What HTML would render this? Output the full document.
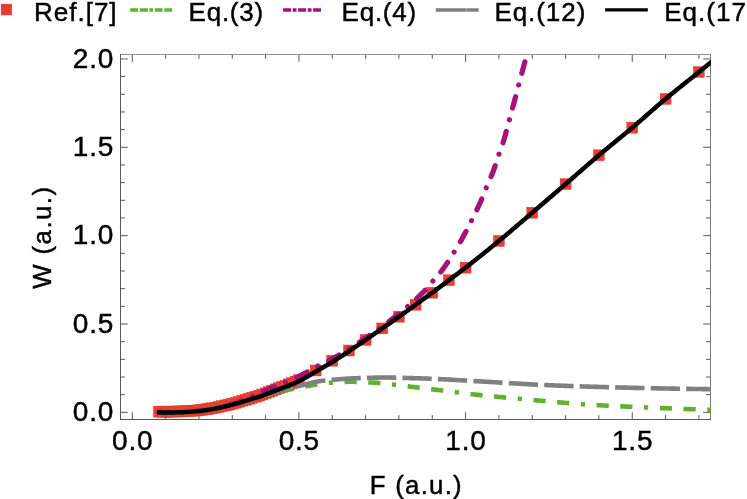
<!DOCTYPE html>
<html><head><meta charset="utf-8"><title>plot</title>
<style>
html,body{margin:0;padding:0;background:#fff;}
body{width:747px;height:499px;overflow:hidden;}
svg{display:block;will-change:transform;}
text{font-family:"Liberation Sans",sans-serif;fill:#000;stroke:#000;stroke-width:0.45px;}
</style></head><body>
<svg width="747" height="499" viewBox="0 0 747 499">
<rect width="747" height="499" fill="#fff"/>
<defs><clipPath id="cp"><rect x="120.0" y="54.0" width="591.0" height="366.0"/></clipPath></defs>
<g clip-path="url(#cp)" fill="#ea3e33" stroke="#e5352a" stroke-width="0.4"><rect x="153.46" y="406.14" width="11.0" height="11.0"/><rect x="156.80" y="406.16" width="11.0" height="11.0"/><rect x="160.13" y="406.15" width="11.0" height="11.0"/><rect x="163.46" y="406.13" width="11.0" height="11.0"/><rect x="166.80" y="406.09" width="11.0" height="11.0"/><rect x="170.13" y="406.03" width="11.0" height="11.0"/><rect x="173.46" y="405.95" width="11.0" height="11.0"/><rect x="176.80" y="405.85" width="11.0" height="11.0"/><rect x="180.13" y="405.71" width="11.0" height="11.0"/><rect x="183.46" y="405.52" width="11.0" height="11.0"/><rect x="186.79" y="405.29" width="11.0" height="11.0"/><rect x="190.13" y="405.03" width="11.0" height="11.0"/><rect x="193.46" y="404.73" width="11.0" height="11.0"/><rect x="196.79" y="404.32" width="11.0" height="11.0"/><rect x="200.13" y="403.83" width="11.0" height="11.0"/><rect x="203.46" y="403.29" width="11.0" height="11.0"/><rect x="206.79" y="402.70" width="11.0" height="11.0"/><rect x="210.12" y="402.08" width="11.0" height="11.0"/><rect x="213.46" y="401.41" width="11.0" height="11.0"/><rect x="216.79" y="400.67" width="11.0" height="11.0"/><rect x="220.12" y="399.88" width="11.0" height="11.0"/><rect x="223.46" y="399.05" width="11.0" height="11.0"/><rect x="226.79" y="398.19" width="11.0" height="11.0"/><rect x="230.12" y="397.28" width="11.0" height="11.0"/><rect x="233.46" y="396.31" width="11.0" height="11.0"/><rect x="236.79" y="395.30" width="11.0" height="11.0"/><rect x="240.12" y="394.27" width="11.0" height="11.0"/><rect x="243.46" y="393.24" width="11.0" height="11.0"/><rect x="246.79" y="392.24" width="11.0" height="11.0"/><rect x="250.12" y="391.23" width="11.0" height="11.0"/><rect x="253.45" y="390.18" width="11.0" height="11.0"/><rect x="256.79" y="389.06" width="11.0" height="11.0"/><rect x="260.12" y="387.84" width="11.0" height="11.0"/><rect x="263.45" y="386.53" width="11.0" height="11.0"/><rect x="266.79" y="385.20" width="11.0" height="11.0"/><rect x="270.12" y="383.88" width="11.0" height="11.0"/><rect x="273.45" y="382.61" width="11.0" height="11.0"/><rect x="276.79" y="381.36" width="11.0" height="11.0"/><rect x="280.12" y="380.11" width="11.0" height="11.0"/><rect x="283.45" y="378.83" width="11.0" height="11.0"/><rect x="286.78" y="377.48" width="11.0" height="11.0"/><rect x="290.12" y="376.05" width="11.0" height="11.0"/><rect x="293.45" y="374.52" width="11.0" height="11.0"/><rect x="310.12" y="364.97" width="11.0" height="11.0"/><rect x="326.78" y="355.25" width="11.0" height="11.0"/><rect x="343.45" y="345.01" width="11.0" height="11.0"/><rect x="360.11" y="334.40" width="11.0" height="11.0"/><rect x="376.78" y="322.92" width="11.0" height="11.0"/><rect x="393.44" y="311.26" width="11.0" height="11.0"/><rect x="410.11" y="299.24" width="11.0" height="11.0"/><rect x="426.77" y="287.22" width="11.0" height="11.0"/><rect x="443.44" y="274.68" width="11.0" height="11.0"/><rect x="460.10" y="262.13" width="11.0" height="11.0"/><rect x="493.43" y="235.45" width="11.0" height="11.0"/><rect x="526.76" y="207.18" width="11.0" height="11.0"/><rect x="560.09" y="178.55" width="11.0" height="11.0"/><rect x="593.42" y="149.75" width="11.0" height="11.0"/><rect x="626.75" y="122.19" width="11.0" height="11.0"/><rect x="660.08" y="93.38" width="11.0" height="11.0"/><rect x="693.41" y="66.53" width="11.0" height="11.0"/></g>
<g stroke="#585858" stroke-width="1" fill="none">
<line x1="132.30" y1="419.5" x2="132.30" y2="412.2"/><line x1="132.30" y1="54.5" x2="132.30" y2="61.8"/><line x1="165.63" y1="419.5" x2="165.63" y2="415.1"/><line x1="165.63" y1="54.5" x2="165.63" y2="58.9"/><line x1="198.96" y1="419.5" x2="198.96" y2="415.1"/><line x1="198.96" y1="54.5" x2="198.96" y2="58.9"/><line x1="232.29" y1="419.5" x2="232.29" y2="415.1"/><line x1="232.29" y1="54.5" x2="232.29" y2="58.9"/><line x1="265.62" y1="419.5" x2="265.62" y2="415.1"/><line x1="265.62" y1="54.5" x2="265.62" y2="58.9"/><line x1="298.95" y1="419.5" x2="298.95" y2="412.2"/><line x1="298.95" y1="54.5" x2="298.95" y2="61.8"/><line x1="332.28" y1="419.5" x2="332.28" y2="415.1"/><line x1="332.28" y1="54.5" x2="332.28" y2="58.9"/><line x1="365.61" y1="419.5" x2="365.61" y2="415.1"/><line x1="365.61" y1="54.5" x2="365.61" y2="58.9"/><line x1="398.94" y1="419.5" x2="398.94" y2="415.1"/><line x1="398.94" y1="54.5" x2="398.94" y2="58.9"/><line x1="432.27" y1="419.5" x2="432.27" y2="415.1"/><line x1="432.27" y1="54.5" x2="432.27" y2="58.9"/><line x1="465.60" y1="419.5" x2="465.60" y2="412.2"/><line x1="465.60" y1="54.5" x2="465.60" y2="61.8"/><line x1="498.93" y1="419.5" x2="498.93" y2="415.1"/><line x1="498.93" y1="54.5" x2="498.93" y2="58.9"/><line x1="532.26" y1="419.5" x2="532.26" y2="415.1"/><line x1="532.26" y1="54.5" x2="532.26" y2="58.9"/><line x1="565.59" y1="419.5" x2="565.59" y2="415.1"/><line x1="565.59" y1="54.5" x2="565.59" y2="58.9"/><line x1="598.92" y1="419.5" x2="598.92" y2="415.1"/><line x1="598.92" y1="54.5" x2="598.92" y2="58.9"/><line x1="632.25" y1="419.5" x2="632.25" y2="412.2"/><line x1="632.25" y1="54.5" x2="632.25" y2="61.8"/><line x1="665.58" y1="419.5" x2="665.58" y2="415.1"/><line x1="665.58" y1="54.5" x2="665.58" y2="58.9"/><line x1="698.91" y1="419.5" x2="698.91" y2="415.1"/><line x1="698.91" y1="54.5" x2="698.91" y2="58.9"/><line x1="120.5" y1="412.35" x2="127.8" y2="412.35"/><line x1="710.5" y1="412.35" x2="703.2" y2="412.35"/><line x1="120.5" y1="394.68" x2="124.9" y2="394.68"/><line x1="710.5" y1="394.68" x2="706.1" y2="394.68"/><line x1="120.5" y1="377.01" x2="124.9" y2="377.01"/><line x1="710.5" y1="377.01" x2="706.1" y2="377.01"/><line x1="120.5" y1="359.34" x2="124.9" y2="359.34"/><line x1="710.5" y1="359.34" x2="706.1" y2="359.34"/><line x1="120.5" y1="341.67" x2="124.9" y2="341.67"/><line x1="710.5" y1="341.67" x2="706.1" y2="341.67"/><line x1="120.5" y1="324.00" x2="127.8" y2="324.00"/><line x1="710.5" y1="324.00" x2="703.2" y2="324.00"/><line x1="120.5" y1="306.33" x2="124.9" y2="306.33"/><line x1="710.5" y1="306.33" x2="706.1" y2="306.33"/><line x1="120.5" y1="288.66" x2="124.9" y2="288.66"/><line x1="710.5" y1="288.66" x2="706.1" y2="288.66"/><line x1="120.5" y1="270.99" x2="124.9" y2="270.99"/><line x1="710.5" y1="270.99" x2="706.1" y2="270.99"/><line x1="120.5" y1="253.32" x2="124.9" y2="253.32"/><line x1="710.5" y1="253.32" x2="706.1" y2="253.32"/><line x1="120.5" y1="235.65" x2="127.8" y2="235.65"/><line x1="710.5" y1="235.65" x2="703.2" y2="235.65"/><line x1="120.5" y1="217.98" x2="124.9" y2="217.98"/><line x1="710.5" y1="217.98" x2="706.1" y2="217.98"/><line x1="120.5" y1="200.31" x2="124.9" y2="200.31"/><line x1="710.5" y1="200.31" x2="706.1" y2="200.31"/><line x1="120.5" y1="182.64" x2="124.9" y2="182.64"/><line x1="710.5" y1="182.64" x2="706.1" y2="182.64"/><line x1="120.5" y1="164.97" x2="124.9" y2="164.97"/><line x1="710.5" y1="164.97" x2="706.1" y2="164.97"/><line x1="120.5" y1="147.30" x2="127.8" y2="147.30"/><line x1="710.5" y1="147.30" x2="703.2" y2="147.30"/><line x1="120.5" y1="129.63" x2="124.9" y2="129.63"/><line x1="710.5" y1="129.63" x2="706.1" y2="129.63"/><line x1="120.5" y1="111.96" x2="124.9" y2="111.96"/><line x1="710.5" y1="111.96" x2="706.1" y2="111.96"/><line x1="120.5" y1="94.29" x2="124.9" y2="94.29"/><line x1="710.5" y1="94.29" x2="706.1" y2="94.29"/><line x1="120.5" y1="76.62" x2="124.9" y2="76.62"/><line x1="710.5" y1="76.62" x2="706.1" y2="76.62"/><line x1="120.5" y1="58.95" x2="127.8" y2="58.95"/><line x1="710.5" y1="58.95" x2="703.2" y2="58.95"/>
<line x1="120.0" y1="54.5" x2="711.0" y2="54.5" stroke="#929292"/>
<line x1="710.5" y1="54.0" x2="710.5" y2="420.0" stroke="#7c7c7c"/>
<line x1="120.5" y1="54.0" x2="120.5" y2="420.0"/>
<line x1="120.0" y1="419.5" x2="711.0" y2="419.5"/>
</g>
<g clip-path="url(#cp)">
<path d="M158.96,412.35 L160.07,412.37 L161.18,412.39 L162.29,412.40 L163.40,412.41 L164.51,412.42 L165.62,412.42 L166.73,412.42 L167.83,412.42 L168.94,412.41 L170.05,412.40 L171.16,412.39 L172.27,412.38 L173.38,412.37 L174.49,412.35 L175.60,412.33 L176.70,412.32 L177.81,412.30 L178.92,412.27 L180.03,412.25 L181.14,412.23 L182.25,412.20 L183.36,412.17 L184.47,412.14 L185.57,412.09 L186.68,412.03 L187.79,411.97 L188.90,411.89 L190.01,411.82 L191.12,411.73 L192.23,411.64 L193.34,411.55 L194.44,411.45 L195.55,411.35 L196.66,411.25 L197.77,411.14 L198.88,411.04 L199.99,410.93 L201.10,410.80 L202.21,410.67 L203.31,410.53 L204.42,410.37 L205.53,410.21 L206.64,410.05 L207.75,409.87 L208.86,409.69 L209.97,409.51 L211.08,409.31 L212.19,409.12 L213.29,408.92 L214.40,408.72 L215.51,408.52 L216.62,408.31 L217.73,408.10 L218.84,407.87 L219.95,407.64 L221.06,407.40 L222.16,407.15 L223.27,406.89 L224.38,406.63 L225.49,406.37 L226.60,406.10 L227.71,405.83 L228.82,405.56 L229.93,405.28 L231.03,405.00 L232.14,404.73 L233.25,404.45 L234.36,404.17 L235.47,403.88 L236.58,403.58 L237.69,403.29 L238.80,402.98 L239.90,402.68 L241.01,402.37 L242.12,402.06 L243.23,401.75 L244.34,401.44 L245.45,401.13 L246.56,400.82 L247.67,400.51 L248.77,400.20 L249.88,399.89 L250.99,399.58 L252.10,399.27 L253.21,398.95 L254.32,398.64 L255.43,398.33 L256.54,398.01 L257.64,397.69 L258.75,397.38 L259.86,397.07 L260.97,396.75 L262.08,396.44 L263.19,396.12 L264.30,395.80 L265.41,395.48 L266.52,395.16 L267.62,394.84 L268.73,394.52 L269.84,394.20 L270.95,393.89 L272.06,393.58 L273.17,393.28 L274.28,392.99 L275.39,392.71 L276.49,392.44 L277.60,392.17 L278.71,391.91 L279.82,391.66 L280.93,391.41 L282.04,391.16 L283.15,390.92 L284.26,390.68 L285.36,390.45 L286.47,390.22 L287.58,389.99 L288.69,389.76 L289.80,389.53 L290.91,389.31 L292.02,389.08 L293.13,388.86 L294.23,388.64 L295.34,388.41 L296.45,388.19 L297.56,387.97 L298.67,387.75 L299.78,387.53 L300.89,387.32 L302.00,387.10 L303.10,386.89 L304.21,386.68 L305.32,386.48 L306.43,386.27 L307.54,386.08 L308.65,385.88 L309.76,385.69 L310.87,385.51 L311.97,385.33 L313.08,385.15 L314.19,384.96 L315.30,384.78 L316.41,384.59 L317.52,384.41 L318.63,384.23 L319.74,384.05 L320.84,383.87 L321.95,383.70 L323.06,383.54 L324.17,383.38 L325.28,383.23 L326.39,383.10 L327.50,382.97 L328.61,382.86 L329.72,382.76 L330.82,382.67 L331.93,382.60 L333.04,382.52 L334.15,382.45 L335.26,382.38 L336.37,382.31 L337.48,382.24 L338.59,382.17 L339.69,382.11 L340.80,382.05 L341.91,382.00 L343.02,381.95 L344.13,381.91 L345.24,381.87 L346.35,381.84 L347.46,381.81 L348.56,381.79 L349.67,381.78 L350.78,381.78 L351.89,381.78 L353.00,381.79 L354.11,381.81 L355.22,381.83 L356.33,381.86 L357.43,381.89 L358.54,381.92 L359.65,381.96 L360.76,382.00 L361.87,382.04 L362.98,382.09 L364.09,382.14 L365.20,382.20 L366.30,382.25 L367.41,382.31 L368.52,382.37 L369.63,382.43 L370.74,382.49 L371.85,382.55 L372.96,382.61 L374.07,382.67 L375.17,382.74 L376.28,382.81 L377.39,382.89 L378.50,382.98 L379.61,383.08 L380.72,383.18 L381.83,383.29 L382.94,383.40 L384.05,383.51 L385.15,383.63 L386.26,383.75 L387.37,383.87 L388.48,384.00 L389.59,384.12 L390.70,384.25 L391.81,384.37 L392.92,384.50 L394.02,384.62 L395.13,384.74 L396.24,384.87 L397.35,385.00 L398.46,385.13 L399.57,385.26 L400.68,385.40 L401.79,385.54 L402.89,385.68 L404.00,385.82 L405.11,385.96 L406.22,386.10 L407.33,386.25 L408.44,386.39 L409.55,386.53 L410.66,386.67 L411.76,386.81 L412.87,386.95 L413.98,387.09 L415.09,387.22 L416.20,387.36 L417.31,387.49 L418.42,387.63 L419.53,387.76 L420.63,387.89 L421.74,388.03 L422.85,388.16 L423.96,388.29 L425.07,388.42 L426.18,388.56 L427.29,388.69 L428.40,388.82 L429.50,388.96 L430.61,389.09 L431.72,389.22 L432.83,389.36 L433.94,389.49 L435.05,389.62 L436.16,389.76 L437.27,389.89 L438.37,390.03 L439.48,390.17 L440.59,390.31 L441.70,390.45 L442.81,390.59 L443.92,390.73 L445.03,390.87 L446.14,391.01 L447.25,391.15 L448.35,391.29 L449.46,391.43 L450.57,391.57 L451.68,391.72 L452.79,391.86 L453.90,392.00 L455.01,392.14 L456.12,392.28 L457.22,392.42 L458.33,392.56 L459.44,392.70 L460.55,392.84 L461.66,392.98 L462.77,393.11 L463.88,393.25 L464.99,393.39 L466.09,393.52 L467.20,393.65 L468.31,393.78 L469.42,393.91 L470.53,394.04 L471.64,394.17 L472.75,394.29 L473.86,394.42 L474.96,394.54 L476.07,394.66 L477.18,394.78 L478.29,394.89 L479.40,395.01 L480.51,395.12 L481.62,395.24 L482.73,395.35 L483.83,395.46 L484.94,395.57 L486.05,395.68 L487.16,395.79 L488.27,395.90 L489.38,396.00 L490.49,396.11 L491.60,396.22 L492.70,396.32 L493.81,396.43 L494.92,396.53 L496.03,396.63 L497.14,396.73 L498.25,396.84 L499.36,396.94 L500.47,397.04 L501.58,397.14 L502.68,397.24 L503.79,397.34 L504.90,397.44 L506.01,397.54 L507.12,397.64 L508.23,397.74 L509.34,397.84 L510.45,397.94 L511.55,398.04 L512.66,398.14 L513.77,398.24 L514.88,398.34 L515.99,398.44 L517.10,398.55 L518.21,398.65 L519.32,398.75 L520.42,398.85 L521.53,398.95 L522.64,399.06 L523.75,399.16 L524.86,399.26 L525.97,399.36 L527.08,399.46 L528.19,399.56 L529.29,399.67 L530.40,399.77 L531.51,399.87 L532.62,399.97 L533.73,400.07 L534.84,400.17 L535.95,400.27 L537.06,400.37 L538.16,400.47 L539.27,400.57 L540.38,400.68 L541.49,400.78 L542.60,400.87 L543.71,400.97 L544.82,401.07 L545.93,401.17 L547.03,401.27 L548.14,401.37 L549.25,401.47 L550.36,401.57 L551.47,401.67 L552.58,401.76 L553.69,401.86 L554.80,401.96 L555.90,402.05 L557.01,402.15 L558.12,402.25 L559.23,402.34 L560.34,402.44 L561.45,402.53 L562.56,402.63 L563.67,402.72 L564.78,402.82 L565.88,402.92 L566.99,403.02 L568.10,403.11 L569.21,403.21 L570.32,403.31 L571.43,403.40 L572.54,403.50 L573.65,403.59 L574.75,403.69 L575.86,403.78 L576.97,403.86 L578.08,403.95 L579.19,404.03 L580.30,404.11 L581.41,404.19 L582.52,404.26 L583.62,404.33 L584.73,404.40 L585.84,404.47 L586.95,404.54 L588.06,404.61 L589.17,404.68 L590.28,404.74 L591.39,404.81 L592.49,404.87 L593.60,404.94 L594.71,405.00 L595.82,405.07 L596.93,405.13 L598.04,405.19 L599.15,405.25 L600.26,405.31 L601.36,405.37 L602.47,405.43 L603.58,405.49 L604.69,405.55 L605.80,405.60 L606.91,405.66 L608.02,405.72 L609.13,405.77 L610.23,405.83 L611.34,405.88 L612.45,405.94 L613.56,405.99 L614.67,406.05 L615.78,406.10 L616.89,406.15 L618.00,406.21 L619.11,406.26 L620.21,406.31 L621.32,406.36 L622.43,406.41 L623.54,406.46 L624.65,406.51 L625.76,406.56 L626.87,406.61 L627.98,406.66 L629.08,406.71 L630.19,406.76 L631.30,406.81 L632.41,406.85 L633.52,406.90 L634.63,406.95 L635.74,407.00 L636.85,407.05 L637.95,407.09 L639.06,407.14 L640.17,407.19 L641.28,407.23 L642.39,407.28 L643.50,407.33 L644.61,407.38 L645.72,407.42 L646.82,407.47 L647.93,407.52 L649.04,407.56 L650.15,407.61 L651.26,407.65 L652.37,407.70 L653.48,407.75 L654.59,407.79 L655.69,407.84 L656.80,407.88 L657.91,407.93 L659.02,407.97 L660.13,408.02 L661.24,408.06 L662.35,408.11 L663.46,408.15 L664.56,408.19 L665.67,408.24 L666.78,408.28 L667.89,408.32 L669.00,408.37 L670.11,408.41 L671.22,408.45 L672.33,408.50 L673.43,408.54 L674.54,408.58 L675.65,408.62 L676.76,408.66 L677.87,408.70 L678.98,408.74 L680.09,408.78 L681.20,408.82 L682.31,408.86 L683.41,408.90 L684.52,408.94 L685.63,408.98 L686.74,409.02 L687.85,409.06 L688.96,409.10 L690.07,409.13 L691.18,409.17 L692.28,409.21 L693.39,409.24 L694.50,409.28 L695.61,409.31 L696.72,409.35 L697.83,409.38 L698.94,409.42 L700.05,409.45 L701.15,409.49 L702.26,409.52 L703.37,409.55 L704.48,409.58 L705.59,409.62 L706.70,409.65 L707.81,409.68 L708.92,409.71 L710.02,409.74 L711.13,409.76 L712.24,409.79" fill="none" stroke="#5eb22f" stroke-width="4.6" stroke-dasharray="4.2 11.6 12.2 11.5 12.2 11.6" stroke-dashoffset="16.82"/>
<path d="M158.96,412.35 L159.70,412.36 L160.43,412.37 L161.16,412.38 L161.90,412.39 L162.63,412.40 L163.36,412.41 L164.10,412.41 L164.83,412.42 L165.56,412.42 L166.30,412.42 L167.03,412.43 L167.76,412.43 L168.50,412.43 L169.23,412.43 L169.96,412.42 L170.70,412.42 L171.43,412.41 L172.17,412.41 L172.90,412.40 L173.63,412.39 L174.37,412.38 L175.10,412.37 L175.83,412.36 L176.57,412.35 L177.30,412.33 L178.03,412.32 L178.77,412.30 L179.50,412.28 L180.23,412.26 L180.97,412.24 L181.70,412.22 L182.43,412.20 L183.17,412.17 L183.90,412.14 L184.63,412.11 L185.37,412.08 L186.10,412.04 L186.83,412.01 L187.57,411.96 L188.30,411.92 L189.03,411.87 L189.77,411.82 L190.50,411.77 L191.23,411.72 L191.97,411.66 L192.70,411.60 L193.43,411.54 L194.17,411.48 L194.90,411.42 L195.63,411.35 L196.37,411.28 L197.10,411.22 L197.83,411.14 L198.57,411.07 L199.30,410.99 L200.03,410.91 L200.77,410.83 L201.50,410.74 L202.23,410.65 L202.97,410.55 L203.70,410.45 L204.43,410.34 L205.17,410.23 L205.90,410.12 L206.63,410.00 L207.37,409.88 L208.10,409.75 L208.83,409.62 L209.57,409.49 L210.30,409.36 L211.03,409.22 L211.77,409.09 L212.50,408.95 L213.24,408.80 L213.97,408.66 L214.70,408.51 L215.44,408.37 L216.17,408.21 L216.90,408.06 L217.64,407.90 L218.37,407.74 L219.10,407.57 L219.84,407.40 L220.57,407.23 L221.30,407.05 L222.04,406.87 L222.77,406.69 L223.50,406.50 L224.24,406.31 L224.97,406.12 L225.70,405.93 L226.44,405.73 L227.17,405.53 L227.90,405.33 L228.64,405.13 L229.37,404.92 L230.10,404.72 L230.84,404.51 L231.57,404.30 L232.30,404.09 L233.04,403.87 L233.77,403.65 L234.50,403.42 L235.24,403.19 L235.97,402.95 L236.70,402.70 L237.44,402.45 L238.17,402.20 L238.90,401.94 L239.64,401.67 L240.37,401.40 L241.10,401.13 L241.84,400.86 L242.57,400.58 L243.30,400.30 L244.04,400.02 L244.77,399.73 L245.50,399.45 L246.24,399.16 L246.97,398.88 L247.70,398.59 L248.44,398.30 L249.17,398.01 L249.90,397.71 L250.64,397.40 L251.37,397.09 L252.10,396.78 L252.84,396.45 L253.57,396.12 L254.31,395.78 L255.04,395.44 L255.77,395.09 L256.51,394.74 L257.24,394.39 L257.97,394.04 L258.71,393.68 L259.44,393.33 L260.17,392.98 L260.91,392.62 L261.64,392.27 L262.37,391.93 L263.11,391.59 L263.84,391.25 L264.57,390.91 L265.31,390.58 L266.04,390.25 L266.77,389.93 L267.51,389.61 L268.24,389.28 L268.97,388.96 L269.71,388.64 L270.44,388.31 L271.17,387.99 L271.91,387.66 L272.64,387.34 L273.37,387.03 L274.11,386.71 L274.84,386.40 L275.57,386.09 L276.31,385.79 L277.04,385.49 L277.77,385.20 L278.51,384.91 L279.24,384.62 L279.97,384.33 L280.71,384.05 L281.44,383.77 L282.17,383.49 L282.91,383.21 L283.64,382.93 L284.37,382.65 L285.11,382.37 L285.84,382.09 L286.57,381.81 L287.31,381.52 L288.04,381.23 L288.77,380.94 L289.51,380.65 L290.24,380.34 L290.97,380.04 L291.71,379.73 L292.44,379.41 L293.18,379.09 L293.91,378.76 L294.64,378.42 L295.38,378.08 L296.11,377.73 L296.84,377.38 L297.58,377.03 L298.31,376.66 L299.04,376.30 L299.78,375.93 L300.51,375.56 L301.24,375.19 L301.98,374.81 L302.71,374.44 L303.44,374.06 L304.18,373.68 L304.91,373.30 L305.64,372.91 L306.38,372.51 L307.11,372.11 L307.84,371.71 L308.58,371.30 L309.31,370.88 L310.04,370.46 L310.78,370.03 L311.51,369.60 L312.24,369.18 L312.98,368.75 L313.71,368.32 L314.44,367.90 L315.18,367.48 L315.91,367.08 L316.64,366.68 L317.38,366.29 L318.11,365.91 L318.84,365.53 L319.58,365.17 L320.31,364.81 L321.04,364.45 L321.78,364.10 L322.51,363.74 L323.24,363.38 L323.98,363.03 L324.71,362.67 L325.44,362.31 L326.18,361.94 L326.91,361.58 L327.64,361.21 L328.38,360.84 L329.11,360.46 L329.84,360.08 L330.58,359.70 L331.31,359.31 L332.04,358.92 L332.78,358.52 L333.51,358.12 L334.25,357.71 L334.98,357.31 L335.71,356.90 L336.45,356.48 L337.18,356.07 L337.91,355.65 L338.65,355.23 L339.38,354.80 L340.11,354.37 L340.85,353.94 L341.58,353.51 L342.31,353.07 L343.05,352.63 L343.78,352.19 L344.51,351.75 L345.25,351.30 L345.98,350.85 L346.71,350.40 L347.45,349.95 L348.18,349.49 L348.91,349.03 L349.65,348.57 L350.38,348.11 L351.11,347.64 L351.85,347.18 L352.58,346.71 L353.31,346.24 L354.05,345.77 L354.78,345.30 L355.51,344.82 L356.25,344.35 L356.98,343.87 L357.71,343.39 L358.45,342.91 L359.18,342.42 L359.91,341.94 L360.65,341.45 L361.38,340.96 L362.11,340.47 L362.85,339.98 L363.58,339.48 L364.31,338.99 L365.05,338.49 L365.78,337.99 L366.51,337.48 L367.25,336.98 L367.98,336.47 L368.71,335.97 L369.45,335.46 L370.18,334.95 L370.91,334.44 L371.65,333.93 L372.38,333.42 L373.11,332.90 L373.85,332.39 L374.58,331.87 L375.32,331.36 L376.05,330.84 L376.78,330.32 L377.52,329.80 L378.25,329.28 L378.98,328.76 L379.72,328.24 L380.45,327.72 L381.18,327.20 L381.92,326.68 L382.65,326.15 L383.38,325.62 L384.12,325.09 L384.85,324.56 L385.58,324.02 L386.32,323.48 L387.05,322.93 L387.78,322.38 L388.52,321.83 L389.25,321.28 L389.98,320.73 L390.72,320.17 L391.45,319.61 L392.18,319.04 L392.92,318.48 L393.65,317.91 L394.38,317.34 L395.12,316.77 L395.85,316.19 L396.58,315.62 L397.32,315.04 L398.05,314.46 L398.78,313.88 L399.52,313.29 L400.25,312.70 L400.98,312.11 L401.72,311.52 L402.45,310.91 L403.18,310.31 L403.92,309.69 L404.65,309.08 L405.38,308.46 L406.12,307.84 L406.85,307.21 L407.58,306.58 L408.32,305.95 L409.05,305.31 L409.78,304.67 L410.52,304.03 L411.25,303.39 L411.98,302.74 L412.72,302.10 L413.45,301.46 L414.18,300.82 L414.92,300.16 L415.65,299.50 L416.39,298.82 L417.12,298.14 L417.85,297.45 L418.59,296.77 L419.32,296.07 L420.05,295.37 L420.79,294.66 L421.52,293.94 L422.25,293.21 L422.99,292.46 L423.72,291.71 L424.45,290.94 L425.19,290.16 L425.92,289.35 L426.65,288.52 L427.39,287.66 L428.12,286.79 L428.85,285.91 L429.59,285.02 L430.32,284.14 L431.05,283.25 L431.79,282.37 L432.52,281.51 L433.25,280.67 L433.99,279.84 L434.72,279.02 L435.45,278.20 L436.19,277.39 L436.92,276.57 L437.65,275.75 L438.39,274.90 L439.12,274.04 L439.85,273.16 L440.59,272.25 L441.32,271.30 L442.05,270.33 L442.79,269.33 L443.52,268.31 L444.25,267.27 L444.99,266.21 L445.72,265.14 L446.45,264.06 L447.19,262.98 L447.92,261.89 L448.65,260.78 L449.39,259.65 L450.12,258.51 L450.85,257.36 L451.59,256.19 L452.32,255.02 L453.05,253.85 L453.79,252.67 L454.52,251.49 L455.26,250.32 L455.99,249.13 L456.72,247.94 L457.46,246.74 L458.19,245.52 L458.92,244.29 L459.66,243.03 L460.39,241.74 L461.12,240.44 L461.86,239.13 L462.59,237.79 L463.32,236.45 L464.06,235.09 L464.79,233.72 L465.52,232.33 L466.26,230.93 L466.99,229.53 L467.72,228.11 L468.46,226.69 L469.19,225.26 L469.92,223.81 L470.66,222.37 L471.39,220.92 L472.12,219.46 L472.86,218.00 L473.59,216.53 L474.32,215.05 L475.06,213.56 L475.79,212.06 L476.52,210.54 L477.26,209.00 L477.99,207.44 L478.72,205.85 L479.46,204.24 L480.19,202.60 L480.92,200.91 L481.66,199.17 L482.39,197.38 L483.12,195.57 L483.86,193.73 L484.59,191.89 L485.32,190.07 L486.06,188.27 L486.79,186.50 L487.52,184.78 L488.26,183.09 L488.99,181.41 L489.72,179.72 L490.46,178.03 L491.19,176.30 L491.92,174.53 L492.66,172.71 L493.39,170.82 L494.12,168.83 L494.86,166.73 L495.59,164.54 L496.33,162.30 L497.06,160.03 L497.79,157.78 L498.53,155.56 L499.26,153.42 L499.99,151.36 L500.73,149.34 L501.46,147.32 L502.19,145.24 L502.93,143.05 L503.66,140.72 L504.39,138.26 L505.13,135.68 L505.86,133.02 L506.59,130.30 L507.33,127.54 L508.06,124.77 L508.79,122.01 L509.53,119.28 L510.26,116.59 L510.99,113.88 L511.73,111.16 L512.46,108.44 L513.19,105.71 L513.93,102.97 L514.66,100.23 L515.39,97.49 L516.13,94.73 L516.86,91.97 L517.59,89.20 L518.33,86.43 L519.06,83.66 L519.79,80.89 L520.53,78.13 L521.26,75.37 L521.99,72.61 L522.73,69.86 L523.46,67.10 L524.19,64.35 L524.93,61.60" fill="none" stroke="#a6127a" stroke-width="5.2" stroke-linecap="round" stroke-dasharray="11.8 12.1 0.01 12.09" stroke-dashoffset="0.08"/>
<path d="M158.96,412.35 L160.07,412.37 L161.18,412.39 L162.29,412.40 L163.40,412.41 L164.51,412.42 L165.62,412.42 L166.73,412.42 L167.83,412.42 L168.94,412.41 L170.05,412.40 L171.16,412.39 L172.27,412.38 L173.38,412.37 L174.49,412.35 L175.60,412.33 L176.70,412.32 L177.81,412.30 L178.92,412.27 L180.03,412.25 L181.14,412.23 L182.25,412.20 L183.36,412.17 L184.47,412.14 L185.57,412.09 L186.68,412.03 L187.79,411.97 L188.90,411.89 L190.01,411.82 L191.12,411.73 L192.23,411.64 L193.34,411.55 L194.44,411.45 L195.55,411.35 L196.66,411.25 L197.77,411.14 L198.88,411.04 L199.99,410.93 L201.10,410.80 L202.21,410.67 L203.31,410.53 L204.42,410.37 L205.53,410.21 L206.64,410.05 L207.75,409.87 L208.86,409.69 L209.97,409.51 L211.08,409.31 L212.19,409.12 L213.29,408.92 L214.40,408.72 L215.51,408.52 L216.62,408.31 L217.73,408.10 L218.84,407.87 L219.95,407.64 L221.06,407.40 L222.16,407.16 L223.27,406.90 L224.38,406.64 L225.49,406.38 L226.60,406.11 L227.71,405.84 L228.82,405.57 L229.93,405.29 L231.03,405.01 L232.14,404.73 L233.25,404.45 L234.36,404.15 L235.47,403.86 L236.58,403.55 L237.69,403.25 L238.80,402.93 L239.90,402.62 L241.01,402.30 L242.12,401.97 L243.23,401.65 L244.34,401.32 L245.45,401.00 L246.56,400.67 L247.67,400.35 L248.77,400.02 L249.88,399.70 L250.99,399.38 L252.10,399.05 L253.21,398.73 L254.32,398.40 L255.43,398.07 L256.54,397.74 L257.64,397.41 L258.75,397.08 L259.86,396.75 L260.97,396.42 L262.08,396.08 L263.19,395.75 L264.30,395.40 L265.41,395.06 L266.52,394.71 L267.62,394.37 L268.73,394.02 L269.84,393.67 L270.95,393.33 L272.06,392.99 L273.17,392.66 L274.28,392.33 L275.39,392.01 L276.49,391.70 L277.60,391.39 L278.71,391.09 L279.82,390.79 L280.93,390.49 L282.04,390.20 L283.15,389.91 L284.26,389.62 L285.36,389.34 L286.47,389.05 L287.58,388.77 L288.69,388.49 L289.80,388.21 L290.91,387.93 L292.02,387.65 L293.13,387.37 L294.23,387.10 L295.34,386.82 L296.45,386.55 L297.56,386.28 L298.67,386.01 L299.78,385.74 L300.89,385.47 L302.00,385.21 L303.10,384.94 L304.21,384.68 L305.32,384.42 L306.43,384.15 L307.54,383.88 L308.65,383.60 L309.76,383.31 L310.87,383.02 L311.97,382.74 L313.08,382.46 L314.19,382.19 L315.30,381.94 L316.41,381.70 L317.52,381.48 L318.63,381.28 L319.74,381.10 L320.84,380.95 L321.95,380.82 L323.06,380.69 L324.17,380.57 L325.28,380.45 L326.39,380.35 L327.50,380.24 L328.61,380.15 L329.72,380.05 L330.82,379.96 L331.93,379.87 L333.04,379.77 L334.15,379.68 L335.26,379.59 L336.37,379.49 L337.48,379.40 L338.59,379.31 L339.69,379.22 L340.80,379.14 L341.91,379.05 L343.02,378.97 L344.13,378.89 L345.24,378.81 L346.35,378.74 L347.46,378.67 L348.56,378.61 L349.67,378.55 L350.78,378.49 L351.89,378.44 L353.00,378.39 L354.11,378.35 L355.22,378.30 L356.33,378.26 L357.43,378.21 L358.54,378.17 L359.65,378.12 L360.76,378.08 L361.87,378.04 L362.98,378.00 L364.09,377.96 L365.20,377.92 L366.30,377.88 L367.41,377.84 L368.52,377.81 L369.63,377.78 L370.74,377.74 L371.85,377.72 L372.96,377.69 L374.07,377.66 L375.17,377.64 L376.28,377.62 L377.39,377.60 L378.50,377.58 L379.61,377.57 L380.72,377.56 L381.83,377.55 L382.94,377.54 L384.05,377.54 L385.15,377.54 L386.26,377.54 L387.37,377.55 L388.48,377.56 L389.59,377.57 L390.70,377.59 L391.81,377.60 L392.92,377.62 L394.02,377.64 L395.13,377.66 L396.24,377.68 L397.35,377.71 L398.46,377.74 L399.57,377.76 L400.68,377.79 L401.79,377.82 L402.89,377.85 L404.00,377.88 L405.11,377.92 L406.22,377.95 L407.33,377.98 L408.44,378.01 L409.55,378.05 L410.66,378.08 L411.76,378.12 L412.87,378.15 L413.98,378.18 L415.09,378.21 L416.20,378.24 L417.31,378.28 L418.42,378.31 L419.53,378.34 L420.63,378.38 L421.74,378.41 L422.85,378.45 L423.96,378.49 L425.07,378.53 L426.18,378.57 L427.29,378.61 L428.40,378.65 L429.50,378.69 L430.61,378.74 L431.72,378.78 L432.83,378.83 L433.94,378.87 L435.05,378.92 L436.16,378.97 L437.27,379.01 L438.37,379.06 L439.48,379.11 L440.59,379.16 L441.70,379.21 L442.81,379.26 L443.92,379.32 L445.03,379.37 L446.14,379.43 L447.25,379.49 L448.35,379.55 L449.46,379.61 L450.57,379.67 L451.68,379.74 L452.79,379.80 L453.90,379.86 L455.01,379.93 L456.12,379.99 L457.22,380.06 L458.33,380.12 L459.44,380.19 L460.55,380.25 L461.66,380.32 L462.77,380.38 L463.88,380.45 L464.99,380.51 L466.09,380.57 L467.20,380.63 L468.31,380.70 L469.42,380.76 L470.53,380.83 L471.64,380.89 L472.75,380.95 L473.86,381.02 L474.96,381.08 L476.07,381.15 L477.18,381.21 L478.29,381.28 L479.40,381.34 L480.51,381.41 L481.62,381.47 L482.73,381.54 L483.83,381.60 L484.94,381.67 L486.05,381.73 L487.16,381.80 L488.27,381.86 L489.38,381.93 L490.49,381.99 L491.60,382.06 L492.70,382.12 L493.81,382.19 L494.92,382.25 L496.03,382.32 L497.14,382.38 L498.25,382.45 L499.36,382.51 L500.47,382.58 L501.58,382.64 L502.68,382.71 L503.79,382.78 L504.90,382.84 L506.01,382.91 L507.12,382.98 L508.23,383.05 L509.34,383.12 L510.45,383.18 L511.55,383.25 L512.66,383.32 L513.77,383.39 L514.88,383.46 L515.99,383.52 L517.10,383.59 L518.21,383.66 L519.32,383.72 L520.42,383.79 L521.53,383.85 L522.64,383.92 L523.75,383.98 L524.86,384.04 L525.97,384.11 L527.08,384.17 L528.19,384.22 L529.29,384.28 L530.40,384.34 L531.51,384.39 L532.62,384.45 L533.73,384.50 L534.84,384.56 L535.95,384.61 L537.06,384.66 L538.16,384.71 L539.27,384.76 L540.38,384.82 L541.49,384.87 L542.60,384.92 L543.71,384.97 L544.82,385.02 L545.93,385.07 L547.03,385.11 L548.14,385.16 L549.25,385.21 L550.36,385.26 L551.47,385.31 L552.58,385.35 L553.69,385.40 L554.80,385.44 L555.90,385.49 L557.01,385.54 L558.12,385.58 L559.23,385.62 L560.34,385.67 L561.45,385.71 L562.56,385.76 L563.67,385.80 L564.78,385.84 L565.88,385.88 L566.99,385.92 L568.10,385.96 L569.21,386.01 L570.32,386.05 L571.43,386.09 L572.54,386.12 L573.65,386.16 L574.75,386.20 L575.86,386.24 L576.97,386.28 L578.08,386.31 L579.19,386.35 L580.30,386.39 L581.41,386.42 L582.52,386.46 L583.62,386.49 L584.73,386.53 L585.84,386.56 L586.95,386.60 L588.06,386.63 L589.17,386.66 L590.28,386.70 L591.39,386.73 L592.49,386.76 L593.60,386.80 L594.71,386.83 L595.82,386.86 L596.93,386.89 L598.04,386.92 L599.15,386.95 L600.26,386.98 L601.36,387.01 L602.47,387.04 L603.58,387.07 L604.69,387.10 L605.80,387.13 L606.91,387.16 L608.02,387.19 L609.13,387.22 L610.23,387.25 L611.34,387.28 L612.45,387.31 L613.56,387.33 L614.67,387.36 L615.78,387.39 L616.89,387.42 L618.00,387.45 L619.11,387.47 L620.21,387.50 L621.32,387.53 L622.43,387.55 L623.54,387.58 L624.65,387.61 L625.76,387.63 L626.87,387.66 L627.98,387.69 L629.08,387.71 L630.19,387.74 L631.30,387.77 L632.41,387.79 L633.52,387.82 L634.63,387.84 L635.74,387.87 L636.85,387.90 L637.95,387.92 L639.06,387.95 L640.17,387.97 L641.28,388.00 L642.39,388.02 L643.50,388.05 L644.61,388.07 L645.72,388.10 L646.82,388.12 L647.93,388.14 L649.04,388.17 L650.15,388.19 L651.26,388.22 L652.37,388.24 L653.48,388.26 L654.59,388.28 L655.69,388.31 L656.80,388.33 L657.91,388.35 L659.02,388.37 L660.13,388.39 L661.24,388.42 L662.35,388.44 L663.46,388.46 L664.56,388.48 L665.67,388.50 L666.78,388.52 L667.89,388.54 L669.00,388.56 L670.11,388.58 L671.22,388.59 L672.33,388.61 L673.43,388.63 L674.54,388.65 L675.65,388.67 L676.76,388.69 L677.87,388.71 L678.98,388.73 L680.09,388.74 L681.20,388.76 L682.31,388.78 L683.41,388.80 L684.52,388.82 L685.63,388.83 L686.74,388.85 L687.85,388.87 L688.96,388.89 L690.07,388.90 L691.18,388.92 L692.28,388.94 L693.39,388.95 L694.50,388.97 L695.61,388.98 L696.72,389.00 L697.83,389.02 L698.94,389.03 L700.05,389.05 L701.15,389.06 L702.26,389.08 L703.37,389.09 L704.48,389.11 L705.59,389.12 L706.70,389.14 L707.81,389.15 L708.92,389.16 L710.02,389.18 L711.13,389.19 L712.24,389.20" fill="none" stroke="#808080" stroke-width="4.6" stroke-dasharray="29.3 6.2" stroke-dashoffset="1.05"/>
<path d="M157.00,412.35 L158.11,412.35 L159.22,412.35 L160.34,412.36 L161.45,412.38 L162.56,412.40 L163.67,412.41 L164.79,412.42 L165.90,412.42 L167.01,412.43 L168.12,412.43 L169.24,412.43 L170.35,412.42 L171.46,412.41 L172.58,412.41 L173.69,412.39 L174.80,412.38 L175.91,412.36 L177.03,412.34 L178.14,412.31 L179.25,412.29 L180.36,412.26 L181.48,412.23 L182.59,412.19 L183.70,412.15 L184.82,412.11 L185.93,412.05 L187.04,411.99 L188.15,411.93 L189.27,411.86 L190.38,411.78 L191.49,411.70 L192.60,411.61 L193.72,411.52 L194.83,411.42 L195.94,411.32 L197.06,411.22 L198.17,411.11 L199.28,411.00 L200.39,410.87 L201.51,410.74 L202.62,410.61 L203.73,410.46 L204.84,410.30 L205.96,410.14 L207.07,409.97 L208.18,409.79 L209.30,409.61 L210.41,409.43 L211.52,409.23 L212.63,409.04 L213.75,408.84 L214.86,408.64 L215.97,408.44 L217.08,408.22 L218.20,408.00 L219.31,407.78 L220.42,407.54 L221.53,407.30 L222.65,407.05 L223.76,406.80 L224.87,406.53 L225.99,406.27 L227.10,406.00 L228.21,405.72 L229.32,405.45 L230.44,405.17 L231.55,404.88 L232.66,404.59 L233.77,404.30 L234.89,404.00 L236.00,403.69 L237.11,403.37 L238.23,403.05 L239.34,402.72 L240.45,402.39 L241.56,402.05 L242.68,401.72 L243.79,401.37 L244.90,401.03 L246.01,400.69 L247.13,400.35 L248.24,400.01 L249.35,399.68 L250.47,399.34 L251.58,399.01 L252.69,398.68 L253.80,398.34 L254.92,398.01 L256.03,397.67 L257.14,397.33 L258.25,396.98 L259.37,396.63 L260.48,396.26 L261.59,395.89 L262.71,395.51 L263.82,395.11 L264.93,394.70 L266.04,394.28 L267.16,393.85 L268.27,393.42 L269.38,392.98 L270.49,392.54 L271.61,392.10 L272.72,391.66 L273.83,391.22 L274.95,390.79 L276.06,390.36 L277.17,389.94 L278.28,389.53 L279.40,389.11 L280.51,388.70 L281.62,388.29 L282.73,387.88 L283.85,387.47 L284.96,387.06 L286.07,386.64 L287.19,386.22 L288.30,385.79 L289.41,385.35 L290.52,384.90 L291.64,384.44 L292.75,383.96 L293.86,383.47 L294.97,382.96 L296.09,382.44 L297.20,381.91 L298.31,381.36 L299.42,380.81 L300.54,380.24 L301.65,379.67 L302.76,379.09 L303.88,378.50 L304.99,377.91 L306.10,377.29 L307.21,376.67 L308.33,376.03 L309.44,375.37 L310.55,374.70 L311.66,374.02 L312.78,373.35 L313.89,372.67 L315.00,372.00 L316.12,371.34 L317.23,370.70 L318.34,370.07 L319.45,369.44 L320.57,368.83 L321.68,368.21 L322.79,367.58 L323.90,366.94 L325.02,366.30 L326.13,365.66 L327.24,365.00 L328.36,364.35 L329.47,363.68 L330.58,363.02 L331.69,362.35 L332.81,361.67 L333.92,360.98 L335.03,360.29 L336.14,359.59 L337.26,358.88 L338.37,358.17 L339.48,357.45 L340.60,356.73 L341.71,356.00 L342.82,355.27 L343.93,354.53 L345.05,353.80 L346.16,353.06 L347.27,352.32 L348.38,351.58 L349.50,350.84 L350.61,350.10 L351.72,349.36 L352.84,348.61 L353.95,347.86 L355.06,347.11 L356.17,346.35 L357.29,345.60 L358.40,344.84 L359.51,344.08 L360.62,343.32 L361.74,342.55 L362.85,341.79 L363.96,341.03 L365.08,340.27 L366.19,339.51 L367.30,338.75 L368.41,337.98 L369.53,337.22 L370.64,336.46 L371.75,335.69 L372.86,334.93 L373.98,334.16 L375.09,333.39 L376.20,332.62 L377.31,331.85 L378.43,331.08 L379.54,330.31 L380.65,329.54 L381.77,328.77 L382.88,328.00 L383.99,327.23 L385.10,326.45 L386.22,325.68 L387.33,324.90 L388.44,324.13 L389.55,323.35 L390.67,322.58 L391.78,321.80 L392.89,321.02 L394.01,320.24 L395.12,319.46 L396.23,318.67 L397.34,317.89 L398.46,317.10 L399.57,316.31 L400.68,315.51 L401.79,314.72 L402.91,313.92 L404.02,313.12 L405.13,312.32 L406.25,311.51 L407.36,310.71 L408.47,309.90 L409.58,309.10 L410.70,308.29 L411.81,307.48 L412.92,306.68 L414.03,305.87 L415.15,305.07 L416.26,304.27 L417.37,303.47 L418.49,302.67 L419.60,301.87 L420.71,301.08 L421.82,300.28 L422.94,299.48 L424.05,298.68 L425.16,297.89 L426.27,297.09 L427.39,296.28 L428.50,295.48 L429.61,294.67 L430.73,293.86 L431.84,293.04 L432.95,292.22 L434.06,291.40 L435.18,290.57 L436.29,289.74 L437.40,288.90 L438.51,288.06 L439.63,287.22 L440.74,286.38 L441.85,285.54 L442.97,284.70 L444.08,283.85 L445.19,283.01 L446.30,282.17 L447.42,281.32 L448.53,280.48 L449.64,279.65 L450.75,278.81 L451.87,277.98 L452.98,277.15 L454.09,276.32 L455.20,275.49 L456.32,274.66 L457.43,273.83 L458.54,272.99 L459.66,272.16 L460.77,271.32 L461.88,270.48 L462.99,269.63 L464.11,268.78 L465.22,267.93 L466.33,267.07 L467.44,266.20 L468.56,265.34 L469.67,264.47 L470.78,263.60 L471.90,262.73 L473.01,261.85 L474.12,260.98 L475.23,260.10 L476.35,259.22 L477.46,258.34 L478.57,257.45 L479.68,256.56 L480.80,255.68 L481.91,254.79 L483.02,253.89 L484.14,253.00 L485.25,252.10 L486.36,251.21 L487.47,250.31 L488.59,249.41 L489.70,248.50 L490.81,247.60 L491.92,246.69 L493.04,245.78 L494.15,244.87 L495.26,243.96 L496.38,243.05 L497.49,242.14 L498.60,241.22 L499.71,240.30 L500.83,239.38 L501.94,238.46 L503.05,237.53 L504.16,236.61 L505.28,235.67 L506.39,234.74 L507.50,233.80 L508.62,232.87 L509.73,231.93 L510.84,230.98 L511.95,230.04 L513.07,229.09 L514.18,228.15 L515.29,227.20 L516.40,226.25 L517.52,225.30 L518.63,224.35 L519.74,223.39 L520.86,222.44 L521.97,221.49 L523.08,220.54 L524.19,219.58 L525.31,218.63 L526.42,217.68 L527.53,216.72 L528.64,215.77 L529.76,214.82 L530.87,213.87 L531.98,212.92 L533.09,211.97 L534.21,211.02 L535.32,210.06 L536.43,209.11 L537.55,208.16 L538.66,207.21 L539.77,206.26 L540.88,205.30 L542.00,204.35 L543.11,203.39 L544.22,202.44 L545.33,201.48 L546.45,200.53 L547.56,199.57 L548.67,198.62 L549.79,197.66 L550.90,196.70 L552.01,195.75 L553.12,194.79 L554.24,193.83 L555.35,192.87 L556.46,191.92 L557.57,190.96 L558.69,190.00 L559.80,189.04 L560.91,188.08 L562.03,187.12 L563.14,186.17 L564.25,185.21 L565.36,184.25 L566.48,183.29 L567.59,182.33 L568.70,181.37 L569.81,180.40 L570.93,179.44 L572.04,178.47 L573.15,177.51 L574.27,176.54 L575.38,175.57 L576.49,174.60 L577.60,173.63 L578.72,172.66 L579.83,171.70 L580.94,170.73 L582.05,169.76 L583.17,168.79 L584.28,167.83 L585.39,166.86 L586.51,165.89 L587.62,164.93 L588.73,163.97 L589.84,163.01 L590.96,162.05 L592.07,161.09 L593.18,160.14 L594.29,159.19 L595.41,158.23 L596.52,157.29 L597.63,156.34 L598.75,155.40 L599.86,154.46 L600.97,153.53 L602.08,152.59 L603.20,151.66 L604.31,150.74 L605.42,149.82 L606.53,148.90 L607.65,147.98 L608.76,147.06 L609.87,146.15 L610.98,145.23 L612.10,144.32 L613.21,143.41 L614.32,142.50 L615.44,141.59 L616.55,140.68 L617.66,139.77 L618.77,138.86 L619.89,137.95 L621.00,137.03 L622.11,136.12 L623.22,135.21 L624.34,134.29 L625.45,133.37 L626.56,132.45 L627.68,131.52 L628.79,130.59 L629.90,129.66 L631.01,128.73 L632.13,127.79 L633.24,126.85 L634.35,125.90 L635.46,124.95 L636.58,123.99 L637.69,123.03 L638.80,122.07 L639.92,121.11 L641.03,120.14 L642.14,119.17 L643.25,118.20 L644.37,117.22 L645.48,116.25 L646.59,115.28 L647.70,114.30 L648.82,113.32 L649.93,112.35 L651.04,111.37 L652.16,110.40 L653.27,109.43 L654.38,108.46 L655.49,107.49 L656.61,106.53 L657.72,105.57 L658.83,104.61 L659.94,103.65 L661.06,102.70 L662.17,101.75 L663.28,100.81 L664.40,99.88 L665.51,98.94 L666.62,98.02 L667.73,97.10 L668.85,96.18 L669.96,95.26 L671.07,94.35 L672.18,93.44 L673.30,92.54 L674.41,91.64 L675.52,90.74 L676.64,89.84 L677.75,88.95 L678.86,88.05 L679.97,87.16 L681.09,86.27 L682.20,85.38 L683.31,84.49 L684.42,83.61 L685.54,82.72 L686.65,81.83 L687.76,80.95 L688.87,80.06 L689.99,79.17 L691.10,78.29 L692.21,77.40 L693.33,76.51 L694.44,75.62 L695.55,74.73 L696.66,73.83 L697.78,72.94 L698.89,72.04 L700.00,71.14 L701.11,70.25 L702.23,69.35 L703.34,68.45 L704.45,67.55 L705.57,66.65 L706.68,65.75 L707.79,64.85 L708.90,63.95 L710.02,63.05 L711.13,62.15 L712.24,61.25" fill="none" stroke="#000" stroke-width="4.5" stroke-linejoin="round"/>
</g>
<g font-size="28px" letter-spacing="0.8"><text x="114.1" y="420.95" text-anchor="end">0.0</text><text x="114.1" y="332.60" text-anchor="end">0.5</text><text x="114.1" y="244.25" text-anchor="end">1.0</text><text x="114.1" y="155.90" text-anchor="end">1.5</text><text x="114.1" y="67.55" text-anchor="end">2.0</text><text x="132.70" y="450.3" text-anchor="middle">0.0</text><text x="299.35" y="450.3" text-anchor="middle">0.5</text><text x="466.00" y="450.3" text-anchor="middle">1.0</text><text x="632.65" y="450.3" text-anchor="middle">1.5</text></g>
<text x="416.4" y="494.3" font-size="25.8px" letter-spacing="1.25" text-anchor="middle">F (a.u.)</text>
<text transform="translate(50.8,237.2) rotate(-90)" font-size="25.8px" letter-spacing="1.45" text-anchor="middle">W (a.u.)</text>
<!-- legend -->
<rect x="1.1" y="4.1" width="10.7" height="10.9" fill="#e83c33" stroke="#e5342a" stroke-width="0.4"/>
<g font-size="26px">
<text x="34" y="21.3" letter-spacing="1.0">Ref.[7]</text>
<text x="188.6" y="21.3" letter-spacing="0.75">Eq.(3)</text>
<text x="341.6" y="21.3" letter-spacing="0.75">Eq.(4)</text>
<text x="494.4" y="21.3" letter-spacing="0.95">Eq.(12)</text>
<text x="664.2" y="21.3" letter-spacing="1.05">Eq.(17</text>
</g>
<line x1="130.2" y1="10" x2="172.2" y2="10" stroke="#5eb22f" stroke-width="3.4" stroke-dasharray="8 1.6 8 1.6 3.7 1.6 8 1.6 8 1.6"/>
<line x1="283.1" y1="10" x2="321.1" y2="10" stroke="#a6127a" stroke-width="3.4" stroke-dasharray="8 1.55 3.9 1.55"/>
<line x1="435.8" y1="10" x2="478.7" y2="10" stroke="#808080" stroke-width="3.4" stroke-dasharray="30.4 0.3"/>
<line x1="605.1" y1="9.9" x2="647.8" y2="9.9" stroke="#000" stroke-width="3.4"/>
</svg>
</body></html>
